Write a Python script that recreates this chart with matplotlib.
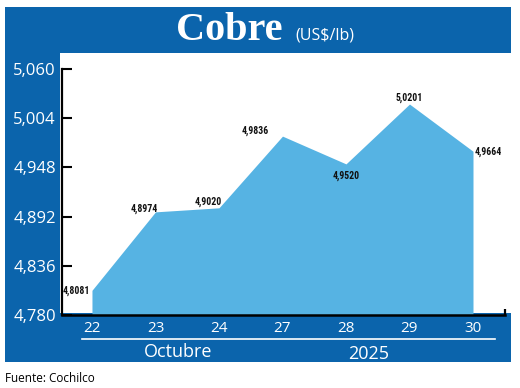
import matplotlib
matplotlib.use("Agg")
import matplotlib.pyplot as plt
from matplotlib.patches import Rectangle
from matplotlib.lines import Line2D
from matplotlib import font_manager

# ---- data ----
days = ["22", "23", "24", "27", "28", "29", "30"]
values = [4.8081, 4.8974, 4.9020, 4.9836, 4.9520, 5.0201, 4.9664]
value_labels = ["4,8081", "4,8974", "4,9020", "4,9836", "4,9520", "5,0201", "4,9664"]
yticks = [4.780, 4.836, 4.892, 4.948, 5.004, 5.060]
ytick_labels = ["4,780", "4,836", "4,892", "4,948", "5,004", "5,060"]
title = "Cobre"
unit = "(US$/lb)"
month = "Octubre"
year = "2025"
source = "Fuente: Cochilco"

W, H = 520, 388
BLUE = "#0b64ac"
AREA = "#56b3e3"

fig = plt.figure(figsize=(W / 100, H / 100), dpi=100)
fig.patch.set_facecolor("white")

def fx(px):
    return px / W

def fy(py):
    return 1 - py / H

# background panels
fig.add_artist(Rectangle((fx(5), fy(362)), fx(511) - fx(5), fy(7) - fy(362),
                         transform=fig.transFigure, facecolor=BLUE, edgecolor="none", zorder=0))
fig.add_artist(Rectangle((fx(60), fy(313)), fx(511) - fx(60), fy(53) - fy(313),
                         transform=fig.transFigure, facecolor="white", edgecolor="none", zorder=0.5))

sans = ["Open Sans", "DejaVu Sans"]

# pick a condensed font for value labels if one exists
names = {f.name for f in font_manager.fontManager.ttflist}
cond = None
for cand in ["Liberation Sans Narrow", "Roboto Condensed", "Open Sans Condensed",
             "DejaVu Sans Condensed", "Noto Sans Condensed"]:
    if cand in names:
        cond = cand
        break
cond_stretch = [f for f in font_manager.fontManager.ttflist
                if f.name in ("DejaVu Sans", "Roboto", "Noto Sans", "Open Sans")
                and f.stretch in ("condensed", "semi-condensed", 300)]
if cond is not None:
    label_font = dict(fontfamily=[cond, "DejaVu Sans"], fontsize=7)
elif cond_stretch:
    label_font = dict(fontfamily=[cond_stretch[0].name], fontstretch="condensed", fontsize=7)
else:
    label_font = dict(fontfamily=["Roboto", "DejaVu Sans"], fontsize=6.3)

ax = fig.add_axes([fx(62), fy(315), fx(505) - fx(62), fy(69) - fy(315)])
ax.set_zorder(2)
ax.set_facecolor("none")
x = list(range(len(days)))
ax.fill_between(x, yticks[0], values, color=AREA, linewidth=0, zorder=1)
ax.set_xlim(-0.472, 6.504)
ax.set_ylim(yticks[0], yticks[-1])

ax.set_yticks(yticks)
ax.set_yticklabels(ytick_labels, fontfamily=sans, fontsize=12, color="white")
ax.set_xticks(x)
ax.set_xticklabels(days, fontfamily=sans, fontsize=11, color="white")
ax.tick_params(axis="y", direction="in", length=7, width=1.5, color="black", pad=4.5)
ax.tick_params(axis="x", length=0, pad=4)
for s in ["top", "right"]:
    ax.spines[s].set_visible(False)
ax.spines["left"].set_linewidth(1.6)
ax.spines["bottom"].set_linewidth(1.8)
ax.spines["left"].set_zorder(3)
ax.spines["bottom"].set_zorder(3)
# small end mark on the x axis
ax.plot([1, 1], [0, 0.025], transform=ax.transAxes, color="black", lw=1.6,
        clip_on=False, solid_capstyle="butt", zorder=3)

# value labels (offsets in pixels -> points), with alignment
offsets = [(-2, -1, "right"), (-11, 3, "center"), (-11, 6, "center"), (-27, 5, "center"),
           (0, -12, "center"), (0, 6, "center"), (2, -1, "left")]
for xi, v, lab, (dx, dy, ha) in zip(x, values, value_labels, offsets):
    ax.annotate(lab, (xi, v), xytext=(dx * 0.72, dy * 0.72), textcoords="offset points",
                ha=ha, va="center", fontweight="bold",
                color="#111111", zorder=4, **label_font)

# title
fig.text(fx(282), fy(40), title, ha="right", va="baseline", fontsize=29,
         fontweight="bold", fontfamily=["Liberation Serif", "DejaVu Serif"], color="white")
fig.text(fx(295), fy(40), unit, ha="left", va="baseline", fontsize=11.5,
         fontfamily=sans, color="white")

# month / year band
fig.add_artist(Line2D([fx(82), fx(495)], [fy(339), fy(339)], transform=fig.transFigure,
                      color="white", lw=1.2))
fig.text(fx(178), fy(352), month, ha="center", va="center", fontsize=13,
         fontfamily=sans, color="white")
fig.text(fx(369), fy(354), year, ha="center", va="center", fontsize=13,
         fontfamily=sans, color="white")

fig.text(fx(5), fy(378), source, ha="left", va="center", fontsize=8.5,
         fontfamily=sans, color="black")

fig.savefig("out.png", dpi=100)
